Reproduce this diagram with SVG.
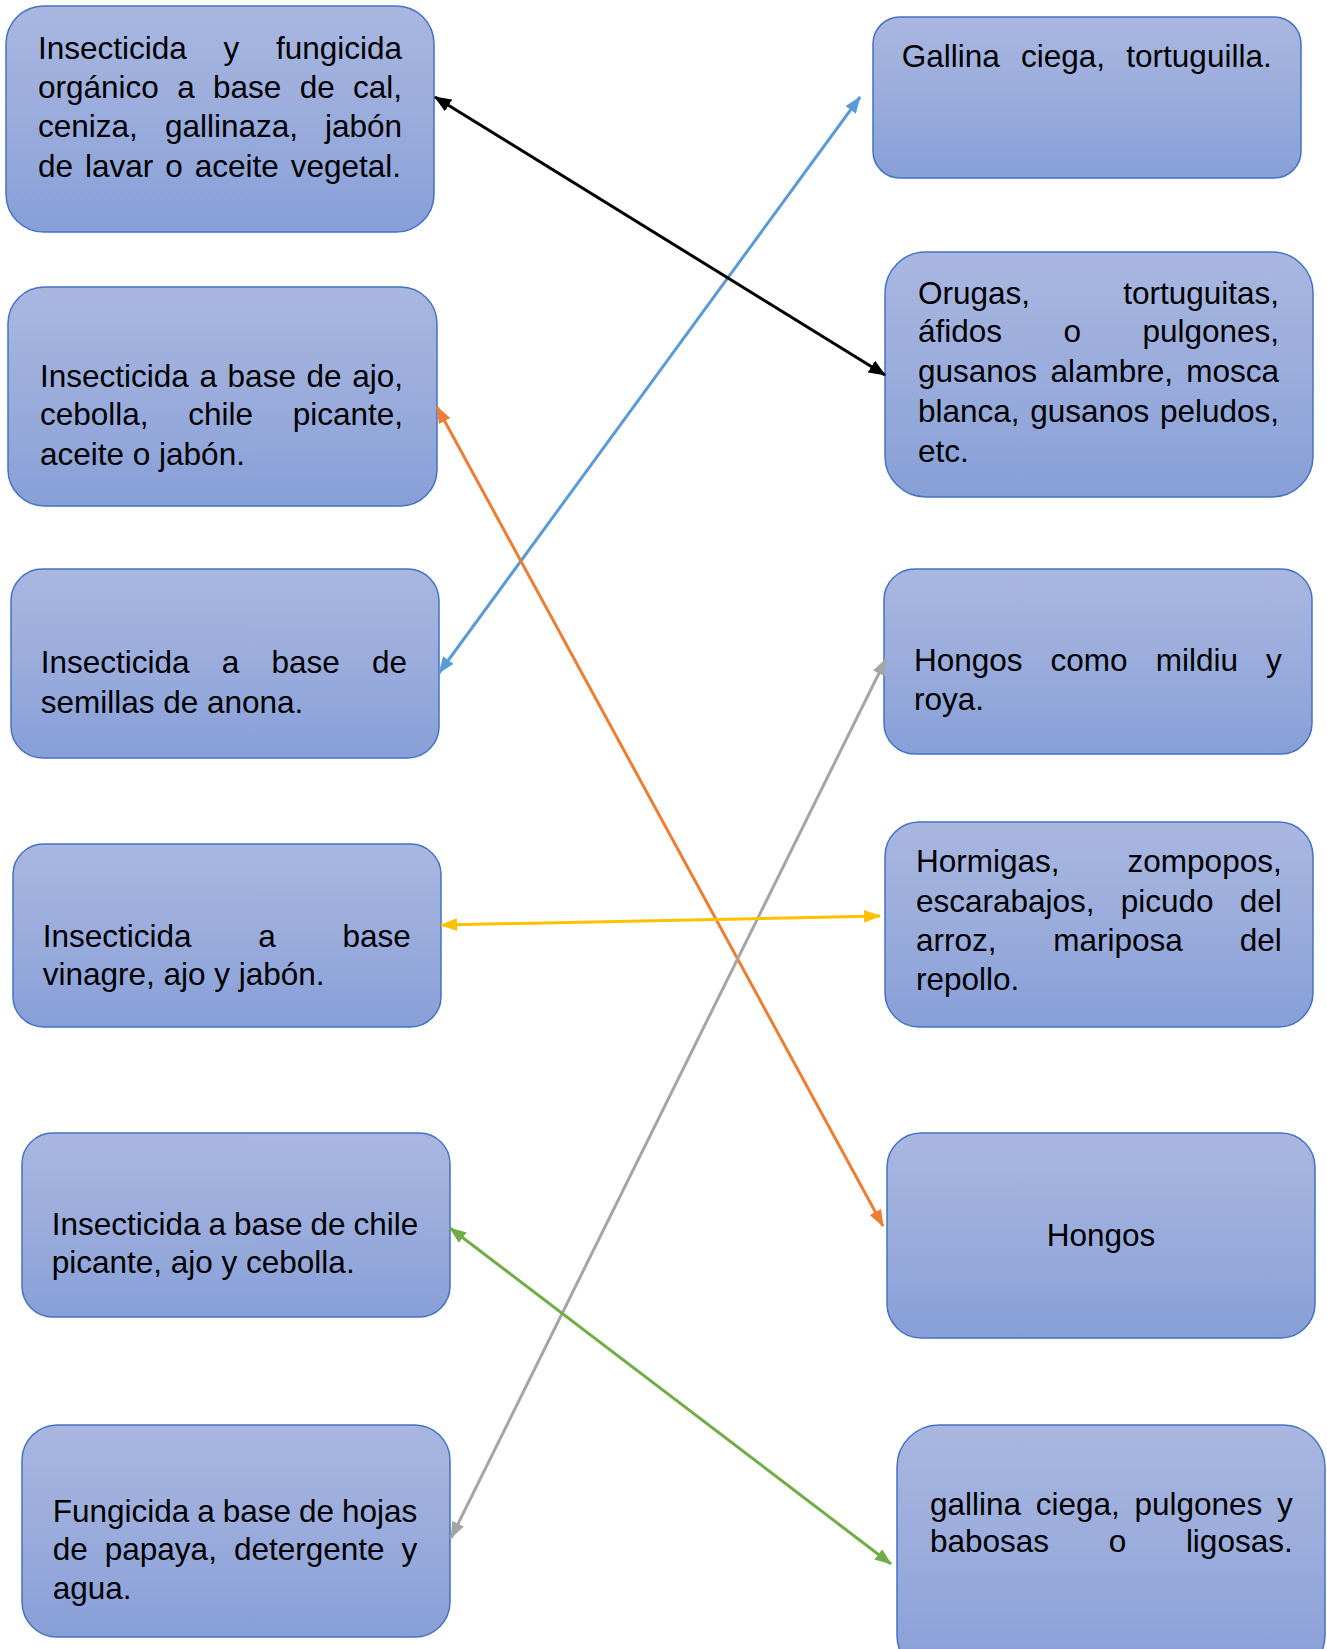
<svg xmlns="http://www.w3.org/2000/svg" width="1327" height="1649" viewBox="0 0 1327 1649">
<defs>
<linearGradient id="g" x1="0" y1="0" x2="0" y2="1">
<stop offset="0" stop-color="#A9B7E0"/>
<stop offset="0.5" stop-color="#9AACDC"/>
<stop offset="1" stop-color="#879FD7"/>
</linearGradient>
<marker id="mk" markerUnits="userSpaceOnUse" markerWidth="17" markerHeight="14" refX="16" refY="7" orient="auto-start-reverse"><path d="M0,0 L17,7 L0,14 z" fill="#000"/></marker>
<marker id="mb" markerUnits="userSpaceOnUse" markerWidth="17" markerHeight="13" refX="16" refY="6.5" orient="auto-start-reverse"><path d="M0,0 L17,6.5 L0,13 z" fill="#5B9BD5"/></marker>
<marker id="mo" markerUnits="userSpaceOnUse" markerWidth="17" markerHeight="13" refX="16" refY="6.5" orient="auto-start-reverse"><path d="M0,0 L17,6.5 L0,13 z" fill="#ED7D31"/></marker>
<marker id="mg" markerUnits="userSpaceOnUse" markerWidth="17" markerHeight="13" refX="16" refY="6.5" orient="auto-start-reverse"><path d="M0,0 L17,6.5 L0,13 z" fill="#A5A5A5"/></marker>
<marker id="my" markerUnits="userSpaceOnUse" markerWidth="17" markerHeight="13" refX="16" refY="6.5" orient="auto-start-reverse"><path d="M0,0 L17,6.5 L0,13 z" fill="#FFC000"/></marker>
<marker id="mn" markerUnits="userSpaceOnUse" markerWidth="17" markerHeight="13" refX="16" refY="6.5" orient="auto-start-reverse"><path d="M0,0 L17,6.5 L0,13 z" fill="#70AD47"/></marker>
</defs>
<style>
.box{fill:url(#g);stroke:#4472C4;stroke-width:1.5}
text{font-family:"Liberation Sans",Arial,sans-serif;font-size:31.5px;fill:#000}
.e{text-anchor:end}
.m{text-anchor:middle}
.c{fill:none;stroke-width:3}
</style>
<rect width="1327" height="1649" fill="#fff"/>

<g id="n-a1">
<rect class="box" x="6" y="6" width="428" height="226" rx="37.7"/>
<text y="58.5"><tspan x="38">Insecticida</tspan><tspan x="223.5">y</tspan></text><text class="e" x="402" y="58.5">fungicida</text>
<text y="97.5"><tspan x="38">orgánico</tspan><tspan x="177.2">a</tspan><tspan x="213">base</tspan><tspan x="299.7">de</tspan></text><text class="e" x="402" y="97.5">cal,</text>
<text y="137"><tspan x="38">ceniza,</tspan><tspan x="165">gallinaza,</tspan></text><text class="e" x="402" y="137">jabón</text>
<text y="176.5"><tspan x="38">de</tspan><tspan x="85">lavar</tspan><tspan x="165.3">o</tspan><tspan x="194.8">aceite</tspan></text><text class="e" x="401" y="176.5">vegetal.</text>
</g>

<g id="n-a2">
<rect class="box" x="8" y="287" width="429" height="219" rx="36.5"/>
<text y="386.7"><tspan x="40">Insecticida</tspan><tspan x="199.5">a</tspan><tspan x="227.6">base</tspan><tspan x="306.6">de</tspan></text><text class="e" x="403" y="386.7">ajo,</text>
<text y="425"><tspan x="40">cebolla,</tspan><tspan x="188.2">chile</tspan></text><text class="e" x="403" y="425">picante,</text>
<text x="40" y="465">aceite o jabón.</text>
</g>

<g id="n-a3">
<rect class="box" x="11" y="569" width="428" height="189" rx="31.5"/>
<text y="673"><tspan x="40.7">Insecticida</tspan><tspan x="221.7">a</tspan><tspan x="271.4">base</tspan></text><text class="e" x="407" y="673">de</text>
<text x="40.7" y="713">semillas de anona.</text>
</g>

<g id="n-a4">
<rect class="box" x="13" y="844" width="428" height="183" rx="30.5"/>
<text y="946.7"><tspan x="42.7">Insecticida</tspan><tspan x="258.2">a</tspan></text><text class="e" x="410.7" y="946.7">base</text>
<text x="42.7" y="985">vinagre, ajo y jabón.</text>
</g>

<g id="n-a5">
<rect class="box" x="22" y="1133" width="428" height="184" rx="30.7"/>
<text y="1235"><tspan x="51.7">Insecticida</tspan><tspan x="208.6">a</tspan><tspan x="234.1">base</tspan><tspan x="310.5">de</tspan></text><text class="e" x="418.3" y="1235">chile</text>
<text x="51.7" y="1273.3">picante, ajo y cebolla.</text>
</g>

<g id="n-a6">
<rect class="box" x="22" y="1425" width="428" height="212" rx="35.3"/>
<text y="1521.7"><tspan x="52.7">Fungicida</tspan><tspan x="197.3">a</tspan><tspan x="222.8">base</tspan><tspan x="299.1">de</tspan></text><text class="e" x="417.3" y="1521.7">hojas</text>
<text y="1560"><tspan x="52.7">de</tspan><tspan x="104.8">papaya,</tspan><tspan x="233.9">detergente</tspan></text><text class="e" x="417.3" y="1560">y</text>
<text x="52.7" y="1599.3">agua.</text>
</g>

<g id="n-b1">
<rect class="box" x="873" y="17" width="428" height="161" rx="26.8"/>
<text y="67"><tspan x="901.7">Gallina</tspan><tspan x="1021">ciega,</tspan></text><text class="e" x="1271.7" y="67">tortuguilla.</text>
</g>

<g id="n-b2">
<rect class="box" x="885" y="252" width="428" height="245" rx="40.8"/>
<text x="918" y="303.5">Orugas,</text><text class="e" x="1279" y="303.5">tortuguitas,</text>
<text y="342"><tspan x="918">áfidos</tspan><tspan x="1063.5">o</tspan></text><text class="e" x="1279" y="342">pulgones,</text>
<text y="382"><tspan x="918">gusanos</tspan><tspan x="1050.4">alambre,</tspan></text><text class="e" x="1279" y="382">mosca</text>
<text y="422"><tspan x="918">blanca,</tspan><tspan x="1030.2">gusanos</tspan></text><text class="e" x="1279" y="422">peludos,</text>
<text x="918" y="461.5">etc.</text>
</g>

<g id="n-b3">
<rect class="box" x="884" y="569" width="428" height="185" rx="30.8"/>
<text y="671"><tspan x="914">Hongos</tspan><tspan x="1050.6">como</tspan><tspan x="1155.7">mildiu</tspan></text><text class="e" x="1281.7" y="671">y</text>
<text x="914" y="710">roya.</text>
</g>

<g id="n-b4">
<rect class="box" x="885" y="822" width="428" height="205" rx="34.2"/>
<text x="916" y="871.7">Hormigas,</text><text class="e" x="1281.7" y="871.7">zompopos,</text>
<text y="911.7"><tspan x="916">escarabajos,</tspan><tspan x="1120.8">picudo</tspan></text><text class="e" x="1281.7" y="911.7">del</text>
<text y="950.7"><tspan x="916">arroz,</tspan><tspan x="1053.3">mariposa</tspan></text><text class="e" x="1281.7" y="950.7">del</text>
<text x="916" y="990">repollo.</text>
</g>

<g id="n-b5">
<rect class="box" x="887" y="1133" width="428" height="205" rx="34.2"/>
<text class="m" x="1101" y="1246">Hongos</text>
</g>

<g id="n-b6">
<rect class="box" x="897" y="1425" width="428" height="252" rx="42"/>
<text y="1515"><tspan x="930">gallina</tspan><tspan x="1035.7">ciega,</tspan><tspan x="1134.4">pulgones</tspan></text><text class="e" x="1292.7" y="1515">y</text>
<text y="1551.7"><tspan x="930">babosas</tspan><tspan x="1108.8">o</tspan></text><text class="e" x="1292.7" y="1551.7">ligosas.</text>
</g>

<g id="connectors">
<line class="c" x1="860" y1="97" x2="439" y2="673" stroke="#5B9BD5" marker-start="url(#mb)" marker-end="url(#mb)"/>
<line class="c" x1="435" y1="97" x2="885" y2="375" stroke="#000" marker-start="url(#mk)" marker-end="url(#mk)"/>
<line class="c" x1="437" y1="407" x2="883" y2="1226" stroke="#ED7D31" marker-start="url(#mo)" marker-end="url(#mo)"/>
<line class="c" x1="886" y1="659" x2="451" y2="1538" stroke="#A5A5A5" marker-start="url(#mg)" marker-end="url(#mg)"/>
<line class="c" x1="441" y1="925" x2="880" y2="916" stroke="#FFC000" marker-start="url(#my)" marker-end="url(#my)"/>
<line class="c" x1="450" y1="1228" x2="891" y2="1564" stroke="#70AD47" marker-start="url(#mn)" marker-end="url(#mn)"/>
</g>
</svg>
